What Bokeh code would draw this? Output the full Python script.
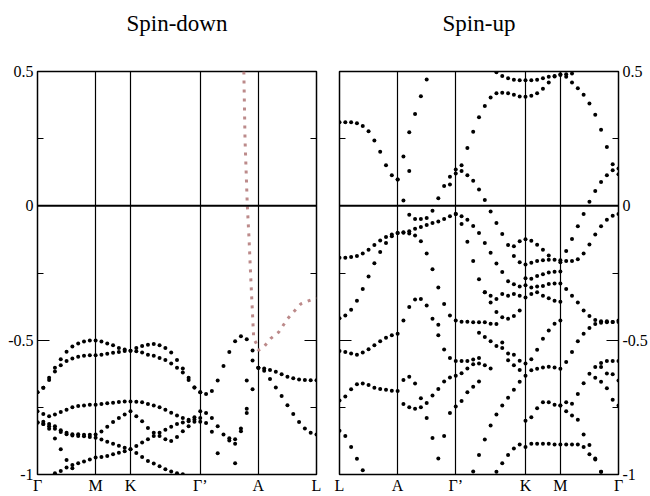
import numpy as np
from bokeh.plotting import figure
from bokeh.models import (Range1d, FixedTicker, LinearAxis, Span, ColumnDataSource, Grid)
from bokeh.layouts import row
from bokeh.embed import file_html
from bokeh.resources import INLINE

# ---------------- k-path (49 k-points per panel) ----------------
down_nodes = [0, 10, 16, 28, 38, 48]
down_labels = ["Γ", "M", "K", "Γ’", "A", "L"]
up_nodes = [0, 10, 20, 32, 38, 48]
up_labels = ["L", "A", "Γ’", "K", "M", "Γ"]

y_ticks = [-1, -0.5, 0, 0.5]
y_tick_labels = ["-1", "-0.5", "0", "0.5"]
y_minor = [-0.75, -0.25, 0.25]

# ---------------- Spin-down bands: (first k index, energies) ----------------
down_1 = (0, [-0.694, -0.677, -0.640, -0.603, -0.571, -0.543, -0.524, -0.512, -0.505, -0.501,
              -0.501, -0.505, -0.512, -0.519, -0.529, -0.535, -0.539, -0.529, -0.522, -0.517,
              -0.514, -0.519, -0.529, -0.546, -0.574, -0.605, -0.640, -0.676, -0.694, -0.700,
              -0.689, -0.650, -0.596, -0.544, -0.504, -0.485, -0.497, -0.538, -0.603, -0.605,
              -0.611, -0.618, -0.627, -0.636, -0.642, -0.646, -0.648, -0.649, -0.649])
down_2 = (0, [-0.694, -0.677, -0.648, -0.617, -0.593, -0.578, -0.568, -0.562, -0.558, -0.556,
              -0.556, -0.554, -0.551, -0.547, -0.544, -0.540, -0.539, -0.541, -0.546, -0.554,
              -0.558, -0.566, -0.574, -0.587, -0.603, -0.620, -0.648, -0.676, -0.694])
down_3 = (36, [-0.650, -0.576, -0.603, -0.614, -0.645, -0.676, -0.708, -0.742, -0.775, -0.805,
               -0.829, -0.845, -0.851])
down_4 = (0, [-0.765, -0.775, -0.783, -0.777, -0.767, -0.759, -0.750, -0.745, -0.743, -0.740,
              -0.740, -0.738, -0.735, -0.733, -0.730, -0.728, -0.728, -0.729, -0.731, -0.738,
              -0.743, -0.750, -0.759, -0.770, -0.780, -0.790, -0.796, -0.787, -0.765, -0.771,
              -0.790, -0.820, -0.851, -0.873, -0.886, -0.839, -0.771, -0.683, -0.603])
down_5 = (0, [-0.806, -0.804, -0.812, -0.820, -0.835, -0.845, -0.850, -0.850, -0.852, -0.852,
              -0.851, -0.840, -0.822, -0.805, -0.790, -0.777, -0.765, -0.783, -0.802, -0.827,
              -0.845, -0.857, -0.869, -0.875, -0.860, -0.839, -0.820, -0.804, -0.804, -0.808,
              -0.841, -0.921, None, None, -0.958])
down_6 = (0, [-0.806, -0.812, -0.820, -0.830, -0.842, -0.850, -0.855, -0.857, -0.858, -0.860,
              -0.863, -0.870, -0.878, -0.886, -0.893, -0.900, -0.906, -0.894, -0.881, -0.869,
              -0.857, -0.845, -0.833, -0.822, -0.812, -0.806, -0.802, -0.795, -0.790])
down_7 = (3, [-0.995, -0.987, -0.974, -0.965, -0.958, -0.952, -0.944, -0.937, -0.935, -0.931,
              -0.925, -0.919, -0.913, -0.906, -0.920, -0.935, -0.950, -0.959, -0.969, -0.980,
              -0.989, -0.995, -0.999])
down_8 = (0, [-0.806, -0.812, -0.830, -0.866, -0.906, -0.946, -0.977])
down_9 = (33, [-0.865, -0.869, -0.829, -0.755])
down_bands = [down_1, down_2, down_3, down_4, down_5, down_6, down_7, down_8, down_9]

# dotted (coloured) band of the spin-down panel
pink_k = [35.5, 35.7, 36.1, 36.4, 36.7, 36.95, 37.2, 37.8, 38.0, 38.95, 40.1, 41.5, 43.0, 45.3, 48.0]
pink_E = [0.5, 0.25, 0.0, -0.125, -0.273, -0.384, -0.494, -0.519, -0.538, -0.525, -0.494,
          -0.470, -0.421, -0.365, -0.342]

# ---------------- Spin-up bands ----------------
up_1 = (0, [0.311, 0.311, 0.311, 0.307, 0.297, 0.278, 0.243, 0.201, 0.151, 0.114, 0.098,
            0.184, 0.274, 0.342, 0.408, 0.470])
up_2 = (10, [0.098, 0.020, -0.033, -0.049, -0.049, -0.045, -0.018, 0.028, 0.074, 0.108,
             0.135, 0.130, 0.114, 0.093, 0.061, 0.022, -0.021, -0.064, -0.105, -0.146,
             -0.187, -0.210, -0.218, -0.212, -0.205, -0.203, -0.201, -0.201, -0.203, -0.205,
             -0.205, -0.199, -0.177, -0.144, -0.107, -0.076, -0.052, -0.037, -0.030])
up_3 = (19, [0.079, 0.120, 0.151, 0.215, 0.276, 0.330, 0.372, 0.403, 0.419, 0.421,
             0.419, 0.413, 0.407, 0.406, 0.410, 0.419, 0.436, 0.459, 0.481, 0.487,
             0.480, 0.459, 0.438, 0.413, 0.381, 0.339, 0.283, 0.219, 0.155, 0.139])
up_4 = (27, [0.497, 0.483, 0.475, 0.469, 0.467, 0.467, 0.467, 0.469, 0.475, 0.480,
             0.483, 0.490, 0.490, 0.493])
up_5 = (38, [-0.210, -0.168, -0.123, -0.076, -0.030, 0.015, 0.055, 0.089, 0.114, 0.132, 0.118])
up_6 = (0, [-0.193, -0.193, -0.190, -0.187, -0.177, -0.163, -0.146, -0.129, -0.116, -0.107,
            -0.101, -0.098, -0.095, -0.085, -0.079, -0.071, -0.064, -0.058, -0.049, -0.039,
            -0.030, -0.039, -0.052, -0.075, -0.101, -0.138, -0.175, -0.215, -0.246, -0.281,
            -0.292, -0.300, -0.296, -0.304, -0.300, -0.298, -0.291, -0.289, -0.289, -0.310,
            -0.335, -0.360, -0.390, -0.410, -0.425, -0.430, -0.430, -0.432, -0.432])
up_7 = (0, [-0.418, -0.408, -0.387, -0.353, -0.310, -0.263, -0.214, -0.172, -0.138, -0.113,
            -0.101, -0.100, -0.103, -0.110, -0.132, -0.177, -0.236, -0.304, -0.365, -0.408,
            -0.427, -0.431, -0.431, -0.433, -0.433, -0.433, -0.439, -0.440])
up_8 = (20, [-0.030, -0.068, -0.134, -0.205, -0.273, -0.322, -0.360, -0.395])
up_9 = (30, [-0.150, -0.132, -0.124, -0.130, -0.145, -0.163, -0.185])
up_10 = (11, [-0.427, -0.377, -0.349, -0.347, -0.371, -0.420, -0.443])
up_11 = (17, [-0.482, -0.535, -0.566, -0.578, -0.578, -0.578, -0.572, -0.566])
up_12 = (0, [-0.540, -0.544, -0.550, -0.554, -0.546, -0.534, -0.519, -0.504, -0.491, -0.482, -0.476])
up_13 = (0, [-0.725, -0.710, -0.683, -0.664, -0.661, -0.667, -0.677, -0.682, -0.685, -0.688,
             -0.689, -0.648, -0.636, -0.661, -0.716, -0.790, -0.864, -0.940])
up_14 = (0, [-0.837, -0.857, -0.898, -0.941, -0.984])
up_15 = (11, [-0.738, -0.750, -0.755, -0.750, -0.734, -0.706, -0.682, -0.654, -0.639, -0.632,
              -0.623, -0.605, -0.590, -0.587, -0.593, -0.605])
up_16 = (18, [-0.857, -0.771, -0.747, -0.726, -0.694, -0.673, -0.654])
up_17 = (23, [-0.989, -0.927, -0.870, -0.818, -0.777, -0.743, -0.714, -0.685, -0.655, -0.632,
              -0.612, -0.606, -0.602, -0.599, -0.602, -0.606, -0.581, -0.544, -0.504, -0.476,
              -0.455, -0.440, -0.435, -0.433, -0.432, -0.427])
up_18 = (24, [-0.472, -0.488, -0.504, -0.522, -0.529, -0.550, -0.554, -0.577, -0.587, -0.571,
              -0.536, -0.495, -0.464, -0.439, -0.427])
up_19 = (28, [-0.509, -0.575, -0.593, -0.611])
up_20 = (32, [-0.800, -0.787, -0.753, -0.731, -0.731, -0.740, -0.743, -0.731, -0.737, -0.700,
              -0.660, -0.625, -0.600, -0.585, -0.578, -0.578, -0.578])
up_21 = (27, [-0.990, -0.958, -0.927, -0.903, -0.888, -0.898, -0.886, -0.886, -0.886, -0.886,
              -0.888, -0.888, -0.888, -0.888, -0.888, -0.898, -0.925, -0.944, -0.990])
up_22 = (38, [-0.743, -0.765, -0.780, -0.796, -0.851, -0.890, -0.940, -0.990])
up_23 = (44, [-0.640, -0.655, -0.679, -0.722, -0.743])
up_24 = (45, [-0.600, -0.624, -0.627, -0.650])
up_25 = (32, [-0.270, -0.271, -0.261, -0.255, -0.248, -0.245, -0.244])
up_26 = (32, [-0.341, -0.328, -0.322, -0.335, -0.344, -0.353, -0.357])
up_27 = (25, [-0.322, -0.335, -0.347, -0.328, -0.335, -0.328, -0.335])
up_28 = (28, [-0.415, -0.420, -0.410, -0.390])
up_29 = (12, [0.130])
up_bands = [up_1, up_2, up_3, up_4, up_5, up_6, up_7, up_8, up_9, up_10, up_11, up_12, up_13,
            up_14, up_15, up_16, up_17, up_18, up_19, up_20, up_21, up_22, up_23, up_24,
            up_25, up_26, up_27, up_28, up_29]

SERIF = "Liberation Serif"
FRAME_W = 279
FIG_H = 496


def to_points(bands):
    ks, es = [], []
    for start, vals in bands:
        for j, e in enumerate(vals):
            if e is None:
                continue
            ks.append(start + j)
            es.append(e)
    return ColumnDataSource(dict(k=ks, e=es))


def y_axis(with_labels):
    ax = LinearAxis(
        ticker=FixedTicker(ticks=y_ticks, minor_ticks=y_minor),
        major_tick_in=12, major_tick_out=0, minor_tick_in=6, minor_tick_out=0,
        major_tick_line_color="black", minor_tick_line_color="black",
        major_tick_line_width=1, minor_tick_line_width=1,
        axis_line_color=None,
        major_label_text_font=SERIF, major_label_text_color="black",
        major_label_text_font_size="16px",
    )
    if with_labels:
        ax.major_label_overrides = {float(t): s for t, s in zip(y_ticks, y_tick_labels)}
        ax.major_label_standoff = 4
    else:
        ax.major_label_overrides = {float(t): "" for t in y_ticks}
        ax.major_label_standoff = 0
    return ax


def make_panel(title, nodes, labels, bands, label_side, border_left, border_right):
    width = border_left + FRAME_W + border_right
    p = figure(width=width, height=FIG_H, x_range=Range1d(0, 48), y_range=Range1d(-1, 0.5),
               output_backend="svg", toolbar_location=None,
               x_axis_location=None, y_axis_location=None,
               min_border_left=border_left, min_border_right=border_right,
               min_border_top=71, min_border_bottom=19)
    p.grid.visible = False
    p.outline_line_color = "black"
    p.outline_line_width = 1.5
    p.outline_line_alpha = 1.0
    p.background_fill_color = "white"
    p.border_fill_color = "white"

    # panel title, carried by an axis above the frame
    top_ax = LinearAxis(ticker=FixedTicker(ticks=[]), axis_label=title,
                        axis_label_standoff=36, axis_label_text_font=SERIF,
                        axis_label_text_font_size="23px", axis_label_text_font_style="normal",
                        axis_label_text_color="black", axis_line_color=None,
                        major_tick_in=0, major_tick_out=0, minor_tick_in=0, minor_tick_out=0,
                        major_tick_line_color=None, minor_tick_line_color=None,
                        major_label_standoff=0)
    p.add_layout(top_ax, "above")

    # high-symmetry point labels
    x_ax = LinearAxis(ticker=FixedTicker(ticks=nodes),
                      major_label_overrides={n: lab for n, lab in zip(nodes, labels)},
                      major_tick_in=0, major_tick_out=0, minor_tick_in=0, minor_tick_out=0,
                      major_tick_line_color=None, minor_tick_line_color=None,
                      axis_line_color=None, major_label_standoff=2,
                      major_label_text_font=SERIF, major_label_text_font_size="16px",
                      major_label_text_color="black")
    p.add_layout(x_ax, "below")

    p.add_layout(y_axis(label_side == "left"), "left")
    p.add_layout(y_axis(label_side == "right"), "right")

    p.add_layout(Grid(dimension=0, ticker=FixedTicker(ticks=nodes),
                      grid_line_color="black", grid_line_width=1.2))
    p.add_layout(Span(location=0, dimension="width", line_color="black", line_width=2))

    p.scatter(x="k", y="e", source=to_points(bands), marker="circle", size=4,
              fill_color="black", line_color=None)
    return p


p1 = make_panel("Spin-down", down_nodes, down_labels, down_bands, "left", 37, 11)
p1.line(pink_k, pink_E, line_color="#bc8a8a", line_width=3, line_dash="3 6")
p2 = make_panel("Spin-up", up_nodes, up_labels, up_bands, "right", 12, 32)

layout = row(p1, p2)
open("out.html", "w").write(file_html(layout, INLINE))
